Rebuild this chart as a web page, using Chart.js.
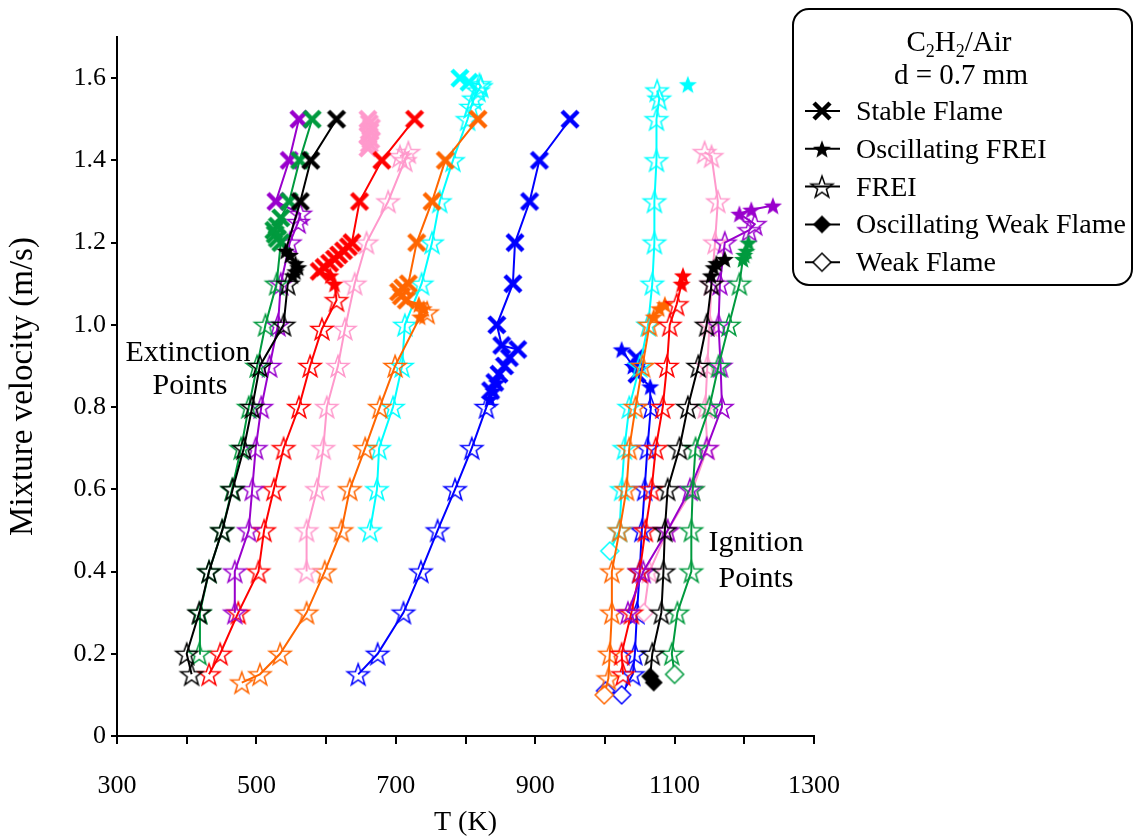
<!DOCTYPE html>
<html>
<head>
<meta charset="utf-8">
<script src="https://cdn.jsdelivr.net/npm/chart.js@4.4.1/dist/chart.umd.min.js"></script>
<style>
  html, body { margin: 0; padding: 0; background: #fff; }
  #wrap { width: 1134px; height: 839px; }
</style>
</head>
<body>
<div id="wrap"><canvas id="flameChart" width="1134" height="839"></canvas></div>
<script>
// marker codes: X stable flame, S oscillating FREI, F FREI, D oscillating weak flame, W weak flame

// Extinction branch
const blackExtT = [407, 400, 418, 432, 451, 466, 482, 494, 505, 539, 545, 552, 556, 560, 556, 548, 542, 563, 578, 615];
const blackExtV = [0.15, 0.2, 0.3, 0.4, 0.5, 0.6, 0.7, 0.8, 0.9, 1.0, 1.1, 1.12, 1.13, 1.14, 1.15, 1.17, 1.18, 1.3, 1.4, 1.5];
const blackExtM = "FFFFFFFFFFFSSSSSSXXX";

const greenExtT = [418, 419, 432, 451, 465, 478, 489, 501, 513, 529, 535, 530, 527, 525, 530, 535, 547, 562, 580];
const greenExtV = [0.2, 0.3, 0.4, 0.5, 0.6, 0.7, 0.8, 0.9, 1.0, 1.1, 1.2, 1.21, 1.22, 1.23, 1.24, 1.26, 1.3, 1.4, 1.5];
const greenExtM = "FFFFFFFFFFXXXXXXXXX";

const purpleExtT = [469, 469, 489, 494, 499, 507, 519, 531, 535, 548, 560, 563, 528, 547, 561];
const purpleExtV = [0.3, 0.4, 0.5, 0.6, 0.7, 0.8, 0.9, 1.0, 1.1, 1.2, 1.25, 1.27, 1.3, 1.4, 1.5];
const purpleExtM = "FFFFFFFFFFFFXXX";

const redExtT = [432, 448, 474, 503, 511, 525, 539, 561, 577, 594, 615, 612, 606, 590, 597, 605, 612, 618, 625, 632, 637, 648, 680, 727];
const redExtV = [0.15, 0.2, 0.3, 0.4, 0.5, 0.6, 0.7, 0.8, 0.9, 0.99, 1.06, 1.1, 1.12, 1.13, 1.14, 1.15, 1.16, 1.17, 1.18, 1.19, 1.2, 1.3, 1.4, 1.5];
const redExtM = "FFFFFFFFFFFSSXXXXXXXXXXX";

const pinkExtT = [572, 572, 587, 596, 601, 617, 627, 641, 658, 689, 713, 718, 706];
const pinkExtV = [0.4, 0.5, 0.6, 0.7, 0.8, 0.9, 0.99, 1.1, 1.2, 1.3, 1.4, 1.42, 1.41];
const pinkExtM = "FFFFFFFFFFFFF";
const pinkStackT = [660, 662, 664, 660, 663, 665, 662, 660];
const pinkStackV = [1.43, 1.44, 1.45, 1.46, 1.47, 1.48, 1.49, 1.5];
const pinkStackM = "XXXXXXXX";

const orangeExtT = [479, 505, 534, 572, 598, 622, 634, 656, 677, 699, 735, 745, 740, 733, 715, 708, 704, 710, 718, 730, 752, 771, 818];
const orangeExtV = [0.13, 0.15, 0.2, 0.3, 0.4, 0.5, 0.6, 0.7, 0.8, 0.9, 1.02, 1.03, 1.04, 1.05, 1.06, 1.07, 1.08, 1.09, 1.1, 1.2, 1.3, 1.4, 1.5];
const orangeExtM = "FFFFFFFFFFSFSSXXXXXXXXX";

const cyanExtT = [663, 673, 676, 696, 709, 713, 737, 752, 763, 782, 803, 808, 812, 818, 822, 820, 805, 792];
const cyanExtV = [0.5, 0.6, 0.7, 0.8, 0.9, 1.0, 1.1, 1.2, 1.3, 1.4, 1.5, 1.53, 1.55, 1.57, 1.58, 1.585, 1.59, 1.6];
const cyanExtM = "FFFFFFFFFFFFFFFFXX";

const blueExtT = [646, 674, 711, 736, 760, 785, 809, 830, 835, 840, 845, 836, 842, 848, 856, 863, 875, 852, 845, 868, 871, 892, 906, 950];
const blueExtV = [0.15, 0.2, 0.3, 0.4, 0.5, 0.6, 0.7, 0.8, 0.82, 0.84, 0.86, 0.84, 0.86, 0.88, 0.9, 0.92, 0.94, 0.95, 1.0, 1.1, 1.2, 1.3, 1.4, 1.5];
const blueExtM = "FFFFFFFFSSSXXXXXXXXXXXXX";

// Ignition branch
const cyanIgnT = [1007, 1021, 1024, 1028, 1035, 1050, 1062, 1068, 1071, 1071, 1074, 1074, 1078, 1075];
const cyanIgnV = [0.45, 0.5, 0.6, 0.7, 0.8, 0.9, 1.0, 1.1, 1.2, 1.3, 1.4, 1.5, 1.55, 1.57];
const cyanIgnM = "WFFFFFFFFFFFFF";
const cyanLoneT = [1119];
const cyanLoneV = [1.585];
const cyanLoneM = "S";

const pinkIgnT = [1056, 1064, 1090, 1126, 1147, 1144, 1147, 1150, 1153, 1158, 1162, 1153, 1143];
const pinkIgnV = [0.3, 0.4, 0.5, 0.6, 0.7, 0.8, 0.9, 1.0, 1.1, 1.2, 1.3, 1.41, 1.42];
const pinkIgnM = "WFFFFFFFFFFFF";

const purpleIgnT = [1033, 1055, 1090, 1122, 1146, 1168, 1166, 1163, 1165, 1172, 1207, 1215, 1193, 1210, 1241];
const purpleIgnV = [0.3, 0.4, 0.5, 0.6, 0.7, 0.8, 0.9, 1.0, 1.1, 1.2, 1.23, 1.245, 1.27, 1.28, 1.29];
const purpleIgnM = "FFFFFFFFFFFFSSS";

const greenIgnT = [1100, 1096, 1104, 1124, 1124, 1126, 1130, 1150, 1163, 1178, 1193, 1198, 1200, 1203, 1206];
const greenIgnV = [0.15, 0.2, 0.3, 0.4, 0.5, 0.6, 0.7, 0.8, 0.9, 1.0, 1.1, 1.16, 1.17, 1.18, 1.2];
const greenIgnM = "WFFFFFFFFFFSSSS";

const blackIgnT = [1070, 1065, 1068, 1081, 1084, 1086, 1090, 1107, 1119, 1134, 1146, 1153, 1152, 1156, 1160, 1172];
const blackIgnV = [0.13, 0.145, 0.2, 0.3, 0.4, 0.5, 0.6, 0.7, 0.8, 0.9, 1.0, 1.1, 1.12, 1.14, 1.15, 1.16];
const blackIgnM = "DDFFFFFFFFFFSSSS";

const redIgnT = [1026, 1024, 1038, 1050, 1058, 1067, 1073, 1083, 1089, 1093, 1103, 1110, 1112];
const redIgnV = [0.15, 0.2, 0.3, 0.4, 0.5, 0.6, 0.7, 0.8, 0.9, 1.0, 1.05, 1.1, 1.12];
const redIgnM = "FFFFFFFFFFFSS";

const orangeIgnT = [999, 1005, 1007, 1010, 1010, 1021, 1031, 1035, 1044, 1054, 1064, 1070, 1078, 1086];
const orangeIgnV = [0.1, 0.14, 0.2, 0.3, 0.4, 0.5, 0.6, 0.7, 0.8, 0.9, 1.0, 1.02, 1.04, 1.05];
const orangeIgnM = "WFFFFFFFFFFSSS";

const blueIgnT = [1001, 1024, 1040, 1043, 1046, 1050, 1053, 1057, 1061, 1066, 1065, 1046, 1045, 1040, 1024];
const blueIgnV = [0.11, 0.1, 0.15, 0.2, 0.3, 0.4, 0.5, 0.6, 0.7, 0.8, 0.85, 0.88, 0.92, 0.9, 0.94];
const blueIgnM = "WWFFFFFFFFSXXSS";

const xTickLabels = [300, 500, 700, 900, 1100, 1300];
const yTickLabels = [0, 0.2, 0.4, 0.6, 0.8, 1.0, 1.2, 1.4, 1.6];
const legendLabels = ["Stable Flame", "Oscillating FREI", "FREI", "Oscillating Weak Flame", "Weak Flame"];
const legendCodes = ["X", "S", "F", "D", "W"];

const colors = {
  black: "#000000",
  green: "#009A3E",
  purple: "#9900CC",
  red: "#FF0000",
  pink: "#FF99CC",
  orange: "#FF6600",
  cyan: "#00FFFF",
  blue: "#0000FF",
};

Chart.defaults.font.family = "'Liberation Serif', 'Times New Roman', serif";
Chart.defaults.color = "#000";

// little canvases used as point styles
const markerCache = {};
function makeMarker(kind, color) {
  const key = kind + color;
  if (markerCache[key]) return markerCache[key];
  const s = 28;
  const c = document.createElement("canvas");
  c.width = s;
  c.height = s;
  const g = c.getContext("2d");
  const m = s / 2;
  g.strokeStyle = color;
  g.fillStyle = color;
  if (kind === "X") {
    g.lineWidth = 4.5;
    g.beginPath();
    g.moveTo(m - 8, m - 8);
    g.lineTo(m + 8, m + 8);
    g.moveTo(m + 8, m - 8);
    g.lineTo(m - 8, m + 8);
    g.stroke();
  } else if (kind === "F" || kind === "S") {
    const ro = kind === "S" ? 9.5 : 11.5;
    const ri = kind === "S" ? 4 : 4.6;
    g.beginPath();
    for (let k = 0; k < 10; k++) {
      const r = k % 2 ? ri : ro;
      const a = -Math.PI / 2 + (k * Math.PI) / 5;
      g.lineTo(m + r * Math.cos(a), m + 1 + r * Math.sin(a));
    }
    g.closePath();
    if (kind === "S") g.fill();
    else {
      g.lineWidth = 1.5;
      g.stroke();
    }
  } else {
    g.beginPath();
    g.moveTo(m, m - 9);
    g.lineTo(m + 9, m);
    g.lineTo(m, m + 9);
    g.lineTo(m - 9, m);
    g.closePath();
    if (kind === "D") g.fill();
    else {
      g.fillStyle = "#fff";
      g.fill();
      g.lineWidth = 1.5;
      g.stroke();
    }
  }
  markerCache[key] = c;
  return c;
}

function series(T, V, M, color, line) {
  return {
    data: T.map((t, i) => ({ x: t, y: V[i] })),
    borderColor: color,
    backgroundColor: color,
    borderWidth: 2,
    showLine: line !== false,
    tension: 0,
    pointStyle: M.split("").map((c) => makeMarker(c, color)),
  };
}

const datasets = [
  series(blackExtT, blackExtV, blackExtM, colors.black),
  series(greenExtT, greenExtV, greenExtM, colors.green),
  series(purpleExtT, purpleExtV, purpleExtM, colors.purple),
  series(redExtT, redExtV, redExtM, colors.red),
  series(pinkExtT, pinkExtV, pinkExtM, colors.pink),
  series(pinkStackT, pinkStackV, pinkStackM, colors.pink),
  series(orangeExtT, orangeExtV, orangeExtM, colors.orange),
  series(cyanExtT, cyanExtV, cyanExtM, colors.cyan),
  series(blueExtT, blueExtV, blueExtM, colors.blue),
  series(blackIgnT, blackIgnV, blackIgnM, colors.black),
  series(greenIgnT, greenIgnV, greenIgnM, colors.green),
  series(purpleIgnT, purpleIgnV, purpleIgnM, colors.purple),
  series(redIgnT, redIgnV, redIgnM, colors.red),
  series(pinkIgnT, pinkIgnV, pinkIgnM, colors.pink),
  series(orangeIgnT, orangeIgnV, orangeIgnM, colors.orange),
  series(cyanIgnT, cyanIgnV, cyanIgnM, colors.cyan),
  series(cyanLoneT, cyanLoneV, cyanLoneM, colors.cyan, false),
  series(blueIgnT, blueIgnV, blueIgnM, colors.blue),
];

// legend box and the two notes inside the plot
const notesPlugin = {
  id: "notes",
  afterDraw(chart) {
    const ctx = chart.ctx;
    const fam = Chart.defaults.font.family;
    ctx.save();
    ctx.fillStyle = "#000";
    ctx.textBaseline = "alphabetic";

    // notes
    ctx.font = "30px " + fam;
    ctx.textAlign = "center";
    ctx.fillText("Extinction", 188, 361);
    ctx.fillText("Points", 190, 394);
    ctx.fillText("Ignition", 756, 551);
    ctx.fillText("Points", 756, 587);

    // legend frame
    ctx.lineWidth = 2;
    ctx.strokeStyle = "#000";
    ctx.fillStyle = "#fff";
    ctx.beginPath();
    ctx.roundRect(793, 9, 339, 276, 16);
    ctx.fill();
    ctx.stroke();
    ctx.fillStyle = "#000";

    // title with subscripts
    const big = "29px " + fam;
    const small = "18px " + fam;
    const parts = [["C", big, 0], ["2", small, 6], ["H", big, 0], ["2", small, 6], ["/Air", big, 0]];
    let w = 0;
    parts.forEach((p) => {
      ctx.font = p[1];
      w += ctx.measureText(p[0]).width;
    });
    let x = 959 - w / 2;
    ctx.textAlign = "left";
    parts.forEach((p) => {
      ctx.font = p[1];
      ctx.fillText(p[0], x, 51 + p[2]);
      x += ctx.measureText(p[0]).width;
    });
    ctx.font = big;
    ctx.textAlign = "center";
    ctx.fillText("d = 0.7 mm", 961, 84);

    ctx.font = "28px " + fam;
    ctx.textAlign = "left";
    legendLabels.forEach((lab, i) => {
      const y = 111 + i * 37.8;
      ctx.strokeStyle = "#000";
      ctx.lineWidth = 2;
      ctx.beginPath();
      ctx.moveTo(805, y);
      ctx.lineTo(840, y);
      ctx.stroke();
      const mk = makeMarker(legendCodes[i], "#000");
      ctx.drawImage(mk, 822 - mk.width / 2, y - mk.height / 2);
      ctx.fillText(lab, 856, y + 9);
    });
    ctx.restore();
  },
};

new Chart(document.getElementById("flameChart"), {
  type: "scatter",
  data: { datasets },
  plugins: [notesPlugin],
  options: {
    responsive: false,
    devicePixelRatio: 1,
    animation: false,
    events: [],
    layout: { padding: { top: 37, right: 320, left: 0, bottom: 0 } },
    plugins: { legend: { display: false }, tooltip: { enabled: false } },
    scales: {
      x: {
        type: "linear",
        min: 300,
        max: 1300,
        afterFit(scale) {
          scale.height = 103;
        },
        border: { display: true, color: "#000", width: 2 },
        grid: { drawOnChartArea: false, drawTicks: true, tickLength: 8, color: "#000", lineWidth: 2 },
        ticks: {
          stepSize: 100,
          padding: 27,
          font: { size: 26 },
          maxRotation: 0,
          autoSkip: false,
          callback: (v) => (xTickLabels.includes(v) ? String(v) : ""),
        },
        title: { display: true, text: "T (K)", font: { size: 28 }, padding: { top: 0, bottom: 0 } },
      },
      y: {
        type: "linear",
        min: 0,
        max: 1.7,
        afterFit(scale) {
          scale.width = 117;
        },
        border: { display: true, color: "#000", width: 2 },
        grid: { drawOnChartArea: false, drawTicks: true, tickLength: 6, color: "#000", lineWidth: 2 },
        ticks: {
          stepSize: 0.2,
          includeBounds: false,
          padding: 5,
          font: { size: 26 },
          autoSkip: false,
          callback: (v) => {
            const r = Math.round(v * 10) / 10;
            return yTickLabels.includes(r) ? (r === 0 ? "0" : r.toFixed(1)) : "";
          },
        },
        title: { display: true, text: "Mixture velocity (m/s)", font: { size: 33 }, padding: { top: 4, bottom: 4 } },
      },
    },
  },
});
</script>
</body>
</html>
